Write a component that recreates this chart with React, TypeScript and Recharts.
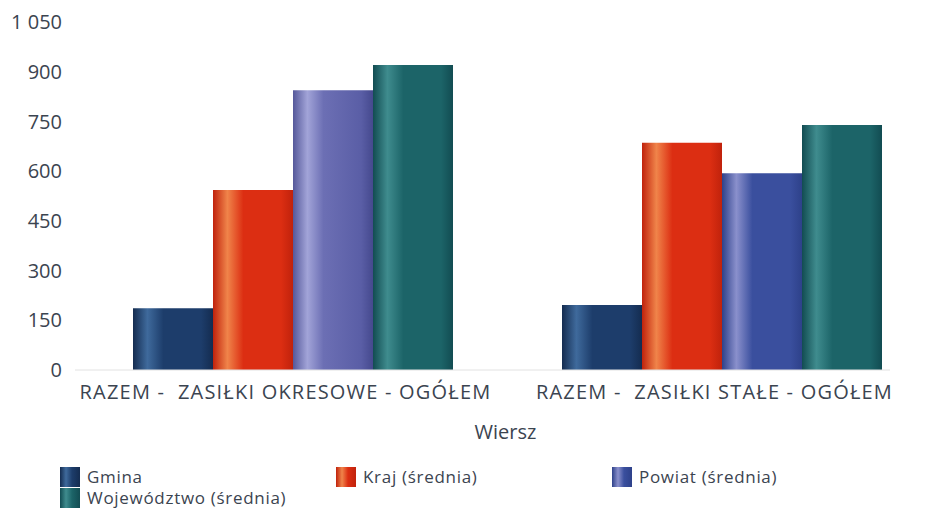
import { BarChart, Bar, XAxis, YAxis, Cell, Label } from 'recharts';

const categories = ['RAZEM -  ZASIŁKI OKRESOWE - OGÓŁEM', 'RAZEM -  ZASIŁKI STAŁE - OGÓŁEM'];
const gmina = [186, 196];
const kraj = [543, 686];
const powiat = [844, 594];
const wojewodztwo = [920, 739];
const yTicks = [0, 150, 300, 450, 600, 750, 900, 1050];

const series = [
  { key: 'gmina', name: 'Gmina', values: gmina, color: '#1d3d6b', light: '#3f6a9c', dark: '#142c50' },
  { key: 'kraj', name: 'Kraj (średnia)', values: kraj, color: '#dc2e12', light: '#f0844a', dark: '#c0220c' },
  { key: 'powiat', name: 'Powiat (średnia)', values: powiat, color: '#3a4f9e', light: '#8a90cc', dark: '#2e418a' },
  { key: 'woj', name: 'Województwo (średnia)', values: wojewodztwo, color: '#1c6468', light: '#3f8c8e', dark: '#124c52' },
];
// powiat bars differ a bit per group in the picture
const powiatCellColors = ['url(#g-powiat-a)', 'url(#g-powiat)'];

const data = categories.map((name, i) => ({
  name,
  gmina: gmina[i],
  kraj: kraj[i],
  powiat: powiat[i],
  woj: wojewodztwo[i],
}));

const fmt = (v: number) => String(v).replace(/\B(?=(\d{3})+(?!\d))/g, ' ');

const textColor = '#3b4450';
const font = '"Open Sans", "Noto Sans", sans-serif';

// keeps the double space of the labels
const CategoryTick = ({ x, y, payload }: any) => (
  <text
    x={x - 8}
    y={y + 7}
    dy="0.71em"
    textAnchor="middle"
    fill={textColor}
    fontSize={20}
    fontFamily={font}
    letterSpacing={1.2}
    style={{ whiteSpace: 'pre' }}
  >
    {payload.value}
  </text>
);

export default function App() {
  return (
    <div style={{ position: 'absolute', left: 0, top: 0, width: 928, height: 513, background: '#fff', fontFamily: font }}>
      <BarChart
        width={928}
        height={513}
        data={data}
        margin={{ top: 22, right: 38, left: 0, bottom: 68 }}
        barGap={0}
        barCategoryGap={54}
      >
        <defs>
          {series.map(s => (
            <linearGradient key={s.key} id={`g-${s.key}`} x1="0" y1="0" x2="1" y2="0">
              <stop offset="0%" stopColor={s.dark} />
              <stop offset="18%" stopColor={s.light} />
              <stop offset="38%" stopColor={s.color} />
              <stop offset="85%" stopColor={s.color} />
              <stop offset="100%" stopColor={s.dark} />
            </linearGradient>
          ))}
          <linearGradient id="g-powiat-a" x1="0" y1="0" x2="1" y2="0">
            <stop offset="0%" stopColor="#55589a" />
            <stop offset="18%" stopColor="#a2a4d8" />
            <stop offset="38%" stopColor="#6c6fb4" />
            <stop offset="85%" stopColor="#5a5ea6" />
            <stop offset="100%" stopColor="#45498e" />
          </linearGradient>
        </defs>
        <XAxis
          dataKey="name"
          axisLine={{ stroke: '#e2e2e2' }}
          tickLine={false}
          height={75}
          padding={{ left: 4, right: -47 }}
          tick={<CategoryTick />}
          interval={0}
        >
          <Label value="Wiersz" position="insideBottom" offset={6} dx={23} fill={textColor} fontSize={20} fontFamily={font} />
        </XAxis>
        <YAxis
          width={75}
          domain={[0, 1050]}
          ticks={yTicks}
          interval={0}
          axisLine={false}
          tickLine={false}
          tickMargin={7}
          tickFormatter={fmt}
          fontSize={20}
          fontFamily={font}
          tick={{ fill: textColor, fontSize: 20 }}
        />
        {series.map(s => (
          <Bar key={s.key} dataKey={s.key} name={s.name} fill={`url(#g-${s.key})`} isAnimationActive={false}>
            {s.key === 'powiat' && data.map((d, i) => <Cell key={d.name} fill={powiatCellColors[i]} />)}
          </Bar>
        ))}
      </BarChart>
      <div style={{ position: 'absolute', left: 60, top: 466, width: 840, display: 'flex', flexWrap: 'wrap' }}>
        {series.map(s => (
          <div key={s.key} style={{ width: 276, display: 'flex', alignItems: 'center', height: 21, lineHeight: '21px', color: textColor, fontSize: 17, letterSpacing: 0.7 }}>
            <span style={{ display: 'inline-block', width: 20, height: 20, background: `linear-gradient(90deg, ${s.dark}, ${s.light} 30%, ${s.color} 60%, ${s.dark})`, marginRight: 7 }} />
            {s.name}
          </div>
        ))}
      </div>
    </div>
  );
}
